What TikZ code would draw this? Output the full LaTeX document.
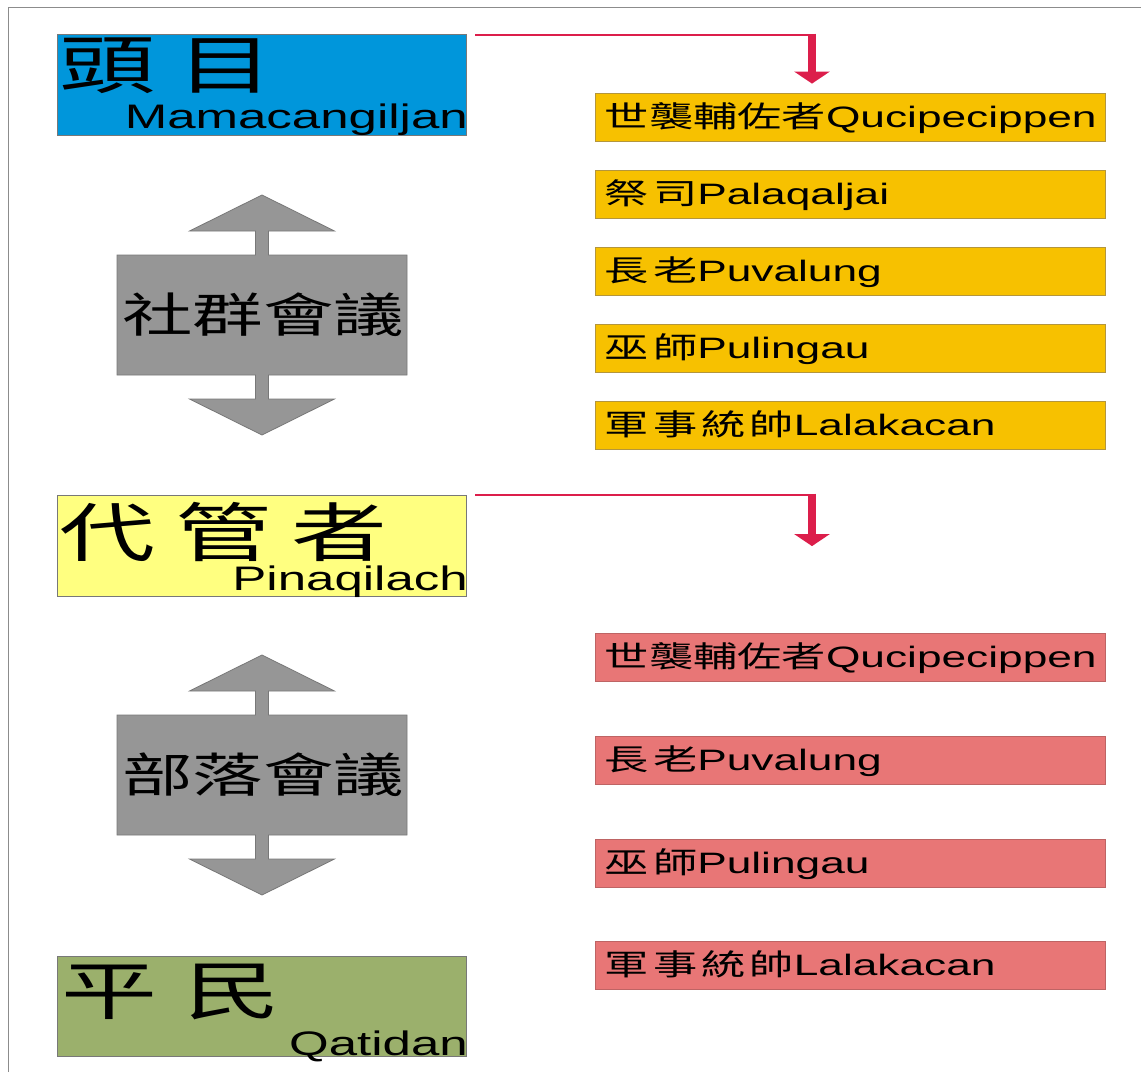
\documentclass[tikz,border=0pt]{standalone}
\usepackage{fontspec}
\setmainfont{Liberation Sans}[FakeStretch=1.5]
\newfontfamily\cjk{Noto Sans CJK TC}[FakeStretch=1.5]
\usetikzlibrary{arrows.meta,calc}
\definecolor{chiefblue}{RGB}{0,150,219}
\definecolor{deputyyellow}{RGB}{255,255,128}
\definecolor{commonergreen}{RGB}{155,176,108}
\definecolor{roleorange}{RGB}{247,193,0}
\definecolor{roleorangeedge}{RGB}{180,150,60}
\definecolor{rolepink}{RGB}{232,118,118}
\definecolor{rolepinkedge}{RGB}{190,100,100}
\definecolor{councilgray}{RGB}{150,150,150}
\definecolor{counciledge}{RGB}{120,120,120}
\definecolor{linkred}{RGB}{220,30,75}
\definecolor{framegray}{RGB}{140,140,140}
\begin{document}
\begin{tikzpicture}[x=1pt,y=-1pt,
  titlebox/.style={rectangle,draw=counciledge,line width=0.8pt,minimum width=409pt,minimum height=101pt,inner sep=0pt},
  titlecjk/.style={inner sep=0pt,anchor=west,font=\cjk\fontsize{64}{64}\selectfont},
  titlelatin/.style={inner sep=0pt,anchor=base east,font=\fontsize{34}{34}\selectfont},
  rolebox/.style={rectangle,line width=0.8pt,minimum width=510pt,minimum height=48pt,inner sep=0pt},
  orangebox/.style={rolebox,fill=roleorange,draw=roleorangeedge},
  pinkbox/.style={rolebox,fill=rolepink,draw=rolepinkedge},
  roletext/.style={inner sep=0pt,anchor=base west,font=\fontsize{29.5}{30}\selectfont},
  councilshape/.style={fill=councilgray,draw=counciledge,line width=0.8pt},
  counciltext/.style={inner sep=0pt,font=\cjk\fontsize{47}{47}\selectfont},
  linkthin/.style={draw=linkred,line width=2pt},
  linkthick/.style={draw=linkred,line width=8pt,-{Triangle[width=35pt,length=12pt]}},
  frameline/.style={draw=framegray,line width=1pt},
  council/.pic={
    \path[councilshape] (0,-120) -- (72.5,-84) -- (6.5,-84) -- (6.5,-60) -- (145,-60) -- (145,60)
      -- (6.5,60) -- (6.5,84) -- (72.5,84) -- (0,120) -- (-72.5,84) -- (-6.5,84) -- (-6.5,60)
      -- (-145,60) -- (-145,-60) -- (-6.5,-60) -- (-6.5,-84) -- (-72.5,-84) -- cycle;
  }]
\useasboundingbox (0,0) rectangle (1141,1072);
\fill[white] (0,0) rectangle (1141,1072);
\draw[frameline] (8,1072) -- (8,7) -- (1141,7);

% title boxes
\node[titlebox,fill=chiefblue] (tou) at (261.5,84.5) {};
\node[titlecjk] (touC) at (59,66) {頭\kern22pt 目};
\node[titlelatin] (touL) at (468,128) {Mamacangiljan};

\node[titlebox,fill=deputyyellow] (dai) at (261.5,545.5) {};
\node[titlecjk] (daiC) at (59,532) {代\kern20pt 管\kern20pt 者};
\node[titlelatin] (daiL) at (468,590) {Pinaqilach};

\node[titlebox,fill=commonergreen,minimum height=100pt] (ping) at (261.5,1006) {};
\node[titlecjk] (pingC) at (61,992) {平\kern27pt 民};
\node[titlelatin] (pingL) at (468,1055) {Qatidan};

% councils
\pic at (262,315) {council};
\node[counciltext] (c1) at (263,315) {社群會議};
\pic at (262,775) {council};
\node[counciltext] (c2) at (263,775) {部落會議};

% orange role boxes
\node[orangebox] (y1) at (850,117) {};
\node[roletext] (y1t) at ([xshift=10pt,yshift=-10pt]y1.west) {{\cjk 世襲輔佐者}Qucipecippen};
\node[orangebox] (y2) at (850,194) {};
\node[roletext] (y2t) at ([xshift=10pt,yshift=-10pt]y2.west) {{\cjk 祭\kern4pt 司}Palaqaljai};
\node[orangebox] (y3) at (850,271) {};
\node[roletext] (y3t) at ([xshift=10pt,yshift=-10pt]y3.west) {{\cjk 長\kern4pt 老}Puvalung};
\node[orangebox] (y4) at (850,348) {};
\node[roletext] (y4t) at ([xshift=10pt,yshift=-10pt]y4.west) {{\cjk 巫\kern4pt 師}Pulingau};
\node[orangebox] (y5) at (850,425) {};
\node[roletext] (y5t) at ([xshift=10pt,yshift=-10pt]y5.west) {{\cjk 軍\kern4pt 事\kern4pt 統\kern4pt 帥}Lalakacan};

% pink role boxes
\node[pinkbox] (p1) at (850,657.5) {};
\node[roletext] (p1t) at ([xshift=10pt,yshift=-10pt]p1.west) {{\cjk 世襲輔佐者}Qucipecippen};
\node[pinkbox] (p2) at (850,760) {};
\node[roletext] (p2t) at ([xshift=10pt,yshift=-10pt]p2.west) {{\cjk 長\kern4pt 老}Puvalung};
\node[pinkbox] (p3) at (850,863) {};
\node[roletext] (p3t) at ([xshift=10pt,yshift=-10pt]p3.west) {{\cjk 巫\kern4pt 師}Pulingau};
\node[pinkbox] (p4) at (850,965.5) {};
\node[roletext] (p4t) at ([xshift=10pt,yshift=-10pt]p4.west) {{\cjk 軍\kern4pt 事\kern4pt 統\kern4pt 帥}Lalakacan};

% red links
\coordinate (a1s) at ([xshift=9pt,yshift=-1pt]tou.north east);
\coordinate (a1e) at ([xshift=-38pt,yshift=9pt]y1.north);
\draw[linkthin] (a1s) -- (a1s -| a1e);
\draw[linkthick] ([yshift=1pt]a1s -| a1e) -- (a1e);

\coordinate (a2s) at ([xshift=9pt,yshift=0pt]dai.north east);
\coordinate (a2e) at ([xshift=-38pt,yshift=87pt]p1.north);
\draw[linkthin] (a2s) -- (a2s -| a2e);
\draw[linkthick] ([yshift=1pt]a2s -| a2e) -- (a2e);
\end{tikzpicture}
\end{document}
